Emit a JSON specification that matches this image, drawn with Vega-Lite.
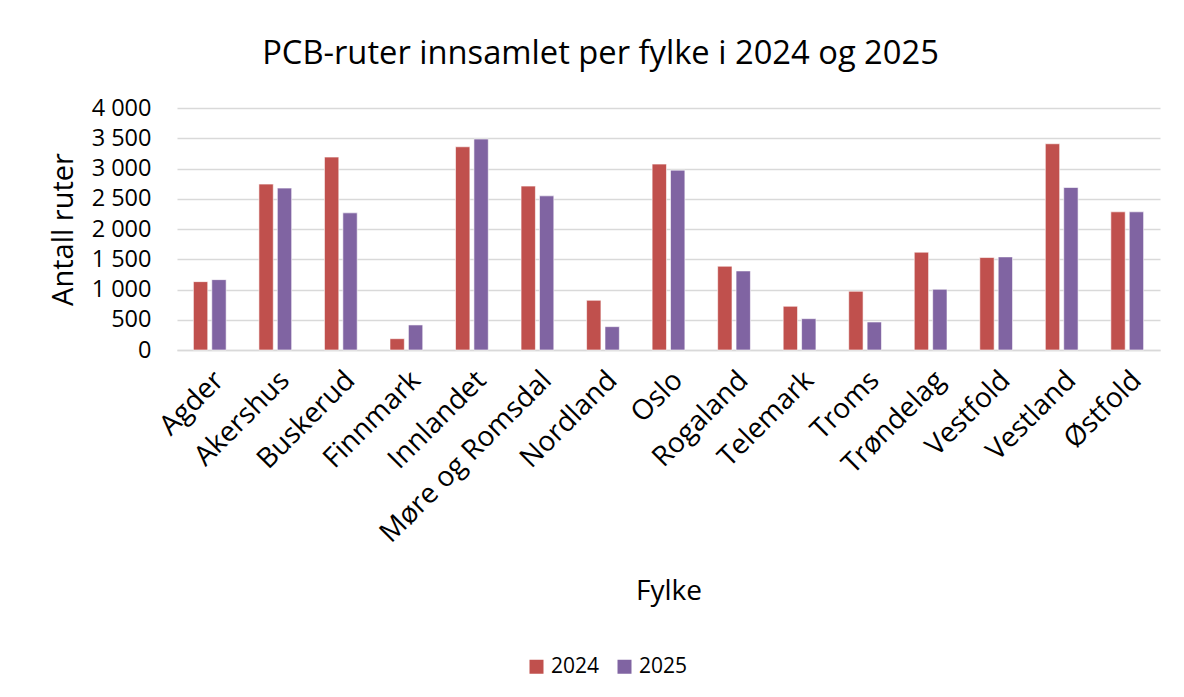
{
  "$schema": "https://vega.github.io/schema/vega-lite/v6.json",
  "autosize": "none",
  "width": 983,
  "height": 242,
  "padding": {"left": 177, "top": 108, "right": 24, "bottom": 347},
  "background": "white",
  "title": {
    "text": "PCB-ruter innsamlet per fylke i 2024 og 2025",
    "font": "Open Sans",
    "fontSize": 32.7,
    "fontWeight": "normal",
    "color": "#000000",
    "anchor": "middle",
    "dx": -68,
    "offset": 25
  },
  "data": {
    "values": [
      {"Fylke": "Agder", "År": "2024", "Antall": 1130},
      {"Fylke": "Agder", "År": "2025", "Antall": 1163},
      {"Fylke": "Akershus", "År": "2024", "Antall": 2742},
      {"Fylke": "Akershus", "År": "2025", "Antall": 2676},
      {"Fylke": "Buskerud", "År": "2024", "Antall": 3189},
      {"Fylke": "Buskerud", "År": "2025", "Antall": 2267},
      {"Fylke": "Finnmark", "År": "2024", "Antall": 187},
      {"Fylke": "Finnmark", "År": "2025", "Antall": 414},
      {"Fylke": "Innlandet", "År": "2024", "Antall": 3359},
      {"Fylke": "Innlandet", "År": "2025", "Antall": 3487},
      {"Fylke": "Møre og Romsdal", "År": "2024", "Antall": 2709},
      {"Fylke": "Møre og Romsdal", "År": "2025", "Antall": 2548},
      {"Fylke": "Nordland", "År": "2024", "Antall": 822},
      {"Fylke": "Nordland", "År": "2025", "Antall": 386},
      {"Fylke": "Oslo", "År": "2024", "Antall": 3073},
      {"Fylke": "Oslo", "År": "2025", "Antall": 2973},
      {"Fylke": "Rogaland", "År": "2024", "Antall": 1385},
      {"Fylke": "Rogaland", "År": "2025", "Antall": 1307},
      {"Fylke": "Telemark", "År": "2024", "Antall": 723},
      {"Fylke": "Telemark", "År": "2025", "Antall": 518},
      {"Fylke": "Troms", "År": "2024", "Antall": 971},
      {"Fylke": "Troms", "År": "2025", "Antall": 463},
      {"Fylke": "Trøndelag", "År": "2024", "Antall": 1617},
      {"Fylke": "Trøndelag", "År": "2025", "Antall": 1004},
      {"Fylke": "Vestfold", "År": "2024", "Antall": 1528},
      {"Fylke": "Vestfold", "År": "2025", "Antall": 1539},
      {"Fylke": "Vestland", "År": "2024", "Antall": 3409},
      {"Fylke": "Vestland", "År": "2025", "Antall": 2686},
      {"Fylke": "Østfold", "År": "2024", "Antall": 2284},
      {"Fylke": "Østfold", "År": "2025", "Antall": 2284}
    ]
  },
  "mark": {"type": "bar", "stroke": "#ffffff", "strokeOpacity": 0.6, "strokeWidth": 1},
  "encoding": {
    "x": {
      "field": "Fylke",
      "type": "nominal",
      "sort": null,
      "scale": {"paddingInner": 0.5, "paddingOuter": 0.25},
      "axis": {
        "title": "Fylke",
        "labelAngle": -45,
        "labelFont": "Open Sans",
        "labelFontSize": 28,
        "labelLimit": 500,
        "labelColor": "#000000",
        "labelPadding": 16,
        "ticks": false,
        "domainColor": "#D9D9D9",
        "domainWidth": 1.5,
        "titleFont": "Open Sans",
        "titleFontSize": 28,
        "titleFontWeight": "normal",
        "titleColor": "#000000",
        "titleY": 249,
        "titleBaseline": "alphabetic"
      }
    },
    "xOffset": {
      "field": "År",
      "type": "nominal",
      "scale": {"paddingInner": 0.22, "paddingOuter": 0}
    },
    "y": {
      "field": "Antall",
      "type": "quantitative",
      "scale": {"domain": [0, 4000]},
      "axis": {
        "title": "Antall ruter",
        "values": [0, 500, 1000, 1500, 2000, 2500, 3000, 3500, 4000],
        "labelExpr": "replace(format(datum.value, ','), ',', ' ')",
        "labelFont": "Open Sans",
        "labelFontSize": 23.5,
        "labelColor": "#000000",
        "labelPadding": 26,
        "ticks": false,
        "domain": false,
        "gridColor": "#D9D9D9",
        "gridWidth": 1.5,
        "titleFont": "Open Sans",
        "titleFontSize": 29,
        "titleFontWeight": "normal",
        "titleColor": "#000000",
        "titleX": -114,
        "titleY": 121,
        "titleAngle": -90,
        "titleAlign": "center",
        "titleBaseline": "middle"
      }
    },
    "color": {
      "field": "År",
      "type": "nominal",
      "scale": {"range": ["#C0504D", "#8064A2"]},
      "legend": {
        "title": null,
        "orient": "none",
        "direction": "horizontal",
        "legendX": 349,
        "legendY": 548,
        "symbolType": "square",
        "symbolSize": 196,
        "symbolStrokeWidth": 0,
        "labelFont": "Open Sans",
        "labelFontSize": 21,
        "labelColor": "#000000",
        "columnPadding": 14,
        "labelOffset": 4
      }
    }
  },
  "config": {"view": {"stroke": null}}
}
